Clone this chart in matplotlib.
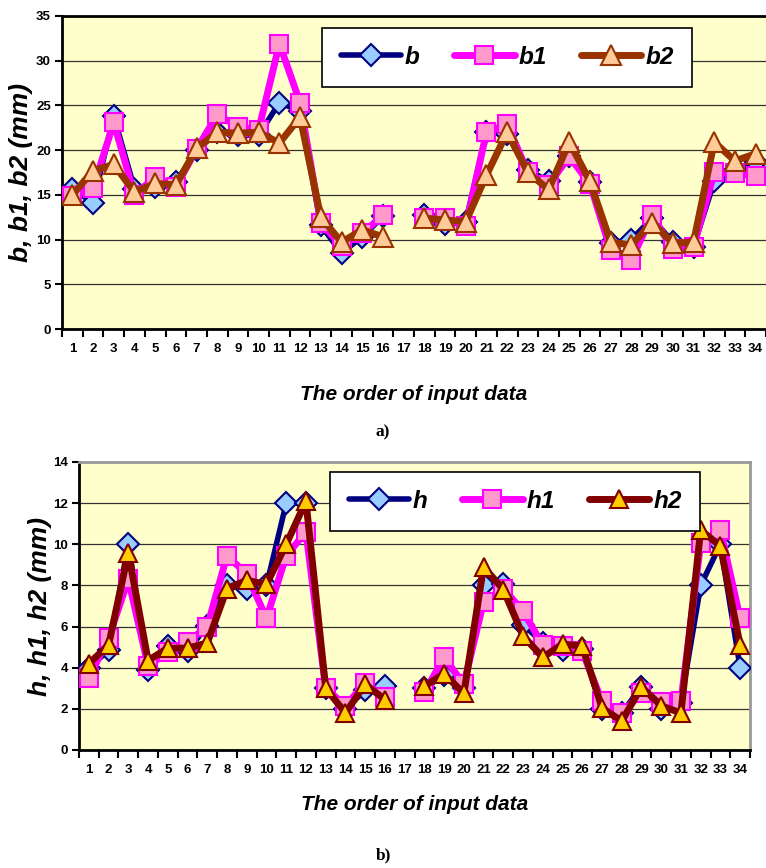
import numpy as np
import matplotlib
matplotlib.use("Agg")
import matplotlib.pyplot as plt
from matplotlib.ticker import FixedLocator, NullFormatter

nan = np.nan
order = list(range(1, 35))
tick_labels = [str(i) for i in order]

b  = [15.7, 14.1, 23.8, 15.7, 15.9, 16.4, 20.0, 22.0, 21.7, 21.7, 25.3, 24.4, 11.6, 8.5, 10.3, 12.6, nan,
      12.7, 11.7, 12.0, 22.0, 21.8, 17.8, 16.5, 19.3, 16.4, 9.6, 10.0, 12.4, 9.7, 9.2, 16.5, 17.8, 18.7]
b1 = [14.9, 15.75, 23.1, 15.0, 17.0, 15.9, 20.1, 24.0, 22.6, 22.3, 31.9, 25.3, 11.85, 9.3, 10.7, 12.7, nan,
      12.4, 12.4, 11.55, 22.0, 22.9, 17.5, 16.1, 19.3, 16.2, 8.8, 7.75, 12.7, 8.9, 9.2, 17.5, 17.4, 17.1]
b2 = [15.0, 17.7, 18.4, 15.3, 16.3, 16.1, 20.2, 22.0, 21.9, 22.0, 20.8, 23.7, 12.5, 9.7, 11.1, 10.3, nan,
      12.4, 12.2, 12.0, 17.2, 22.0, 17.5, 15.6, 20.9, 16.5, 9.7, 9.4, 11.9, 9.6, 9.7, 20.9, 18.8, 19.6]

h  = [4.0, 4.85, 10.0, 3.9, 5.05, 4.8, 6.05, 8.0, 7.85, 8.0, 12.0, 12.0, 3.0, 2.0, 2.9, 3.1, nan,
      3.0, 3.65, 3.0, 8.0, 8.05, 6.1, 5.2, 4.85, 4.9, 2.0, 1.8, 3.07, 2.0, 2.3, 8.0, 10.0, 4.0]
h1 = [3.5, 5.45, 8.3, 4.1, 4.75, 5.25, 6.0, 9.45, 8.55, 6.4, 9.45, 10.6, 3.0, 2.15, 3.25, 2.6, nan,
      2.8, 4.5, 3.2, 7.2, 7.85, 6.75, 5.1, 5.05, 4.8, 2.37, 1.8, 2.75, 2.35, 2.37, 10.05, 10.7, 6.4]
h2 = [4.2, 5.1, 9.6, 4.35, 4.95, 4.95, 5.2, 7.85, 8.25, 8.05, 10.0, 12.1, 3.0, 1.8, 3.2, 2.45, nan,
      3.1, 3.7, 2.75, 8.9, 7.8, 5.55, 4.5, 5.15, 5.05, 2.05, 1.4, 3.07, 2.15, 1.8, 10.7, 9.9, 5.1]

W, H = 766, 868
fig = plt.figure(figsize=(W / 100, H / 100), dpi=100)
fig.patch.set_facecolor("white")
FONT = "Liberation Sans"
BG = "#FFFFCC"
LEG_PROP = {"family": FONT, "weight": "bold", "style": "italic", "size": 17.5}


def setup(ax, ymax, ystep, fs_tick):
    ax.set_facecolor(BG)
    ax.set_xlim(0.5, 34.5)
    ax.set_ylim(0, ymax)
    ax.set_yticks(np.arange(0, ymax + 0.01, ystep))
    ax.yaxis.grid(True, color="#333333", linewidth=0.9)
    ax.set_axisbelow(True)
    ax.set_xticks(order)
    ax.set_xticklabels(tick_labels)
    ax.xaxis.set_minor_locator(FixedLocator(np.arange(0.5, 35, 1)))
    ax.xaxis.set_minor_formatter(NullFormatter())
    ax.tick_params(axis="x", which="major", length=0, pad=10)
    ax.tick_params(axis="x", which="minor", length=6, width=1.5, direction="out", color="black")
    ax.tick_params(axis="y", length=5, width=1.5, direction="out", color="black", pad=3)
    for lab in ax.get_xticklabels() + ax.get_yticklabels():
        lab.set_fontfamily(FONT)
        lab.set_fontweight("bold")
        lab.set_fontsize(fs_tick)
    for s in ["left", "bottom"]:
        ax.spines[s].set_color("black")
        ax.spines[s].set_linewidth(2.0)


def add_legend(ax, cx, cy):
    leg = ax.legend(loc="center", bbox_to_anchor=(cx / W, 1 - cy / H),
                    bbox_transform=fig.transFigure, ncol=3, frameon=True,
                    fancybox=False, edgecolor="black", facecolor="white", framealpha=1,
                    handlelength=2.5, columnspacing=1.4, borderpad=0.75, handletextpad=0.15,
                    borderaxespad=0, prop=LEG_PROP)
    leg.get_frame().set_linewidth(1.2)
    return leg


# ---------- top panel ----------
ax1 = fig.add_axes([62 / W, 1 - 329 / H, (766 - 62) / W, (329 - 16) / H])
setup(ax1, 35, 5, 9.5)
ax1.spines["top"].set_color("black")
ax1.spines["top"].set_linewidth(2.0)
ax1.spines["right"].set_visible(False)

ax1.plot(order, b, color="#000080", lw=4, marker="D", ms=11, mfc="#99CCFF", mec="#000080", mew=1.5,
         label="b", solid_capstyle="round", zorder=3)
ax1.plot(order, b1, color="#FF00FF", lw=5, marker="s", ms=13.5, mfc="#FF99CC", mec="#FF00FF", mew=1.5,
         label="b1", solid_capstyle="round", zorder=4)
ax1.plot(order, b2, color="#993300", lw=5, marker="^", ms=14, mfc="#FFCC99", mec="#993300", mew=1.5,
         label="b2", solid_capstyle="round", zorder=5)

ax1.set_ylabel("b, b1, b2 (mm)", fontfamily=FONT, fontweight="bold", fontstyle="italic",
               fontsize=19, labelpad=2)
ax1.set_xlabel("The order of input data", fontfamily=FONT, fontweight="bold", fontstyle="italic",
               fontsize=15, labelpad=22)
add_legend(ax1, 507, 57.5)

fig.text(383 / W, 1 - 432 / H, "a)", fontfamily="Liberation Serif", fontweight="bold",
         fontsize=12.5, ha="center", va="center")

# ---------- bottom panel ----------
ax2 = fig.add_axes([79 / W, 1 - 750 / H, 671 / W, 288 / H])
setup(ax2, 14, 2, 9.5)
ax2.spines["top"].set_color("#999999")
ax2.spines["top"].set_linewidth(2.0)
ax2.spines["right"].set_color("#999999")
ax2.spines["right"].set_linewidth(2.0)

ax2.plot(order, h, color="#000080", lw=4, marker="D", ms=11, mfc="#99CCFF", mec="#000080", mew=1.5,
         label="h", solid_capstyle="round", zorder=3)
ax2.plot(order, h1, color="#FF00FF", lw=5, marker="s", ms=13.5, mfc="#FF99CC", mec="#FF00FF", mew=1.5,
         label="h1", solid_capstyle="round", zorder=4)
ax2.plot(order, h2, color="#800000", lw=5, marker="^", ms=13, mfc="#FFCC00", mec="#800000", mew=1.5,
         label="h2", solid_capstyle="round", zorder=5)

ax2.set_ylabel("h, h1, h2 (mm)", fontfamily=FONT, fontweight="bold", fontstyle="italic",
               fontsize=19, labelpad=1)
ax2.set_xlabel("The order of input data", fontfamily=FONT, fontweight="bold", fontstyle="italic",
               fontsize=15, labelpad=14)
add_legend(ax2, 515, 501.5)

fig.text(383 / W, 1 - 855 / H, "b)", fontfamily="Liberation Serif", fontweight="bold",
         fontsize=12.5, ha="center", va="center")

fig.savefig("out.png", dpi=100, facecolor="white")
